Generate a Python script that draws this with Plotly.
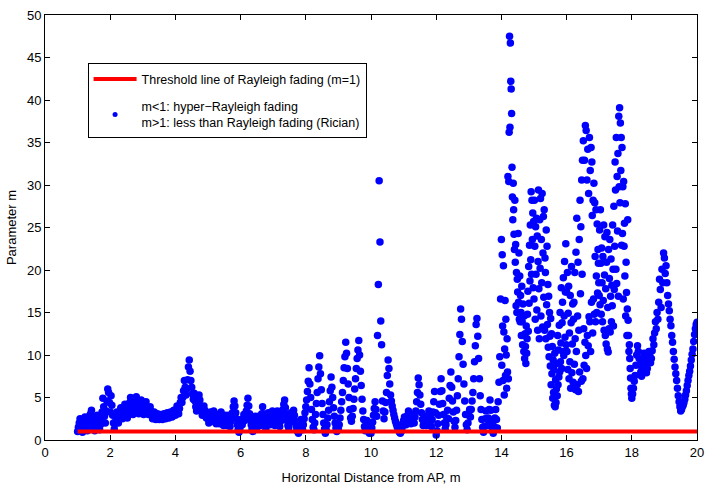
import numpy as np
import plotly.graph_objects as go

# Estimated Nakagami parameter m along the walk, 1 m - 14 m (0.025 m spacing)
m01 = [1.0, 1.5, 2.0, 2.5, 2.0, 1.4, 0.9, 1.5,
       2.1, 2.7, 2.2, 1.6, 1.1, 1.7, 2.3, 2.9,
       3.1, 3.5, 2.8, 2.1, 1.4, 1.1, 1.7, 2.4,
       2.9, 2.3, 1.7, 1.2, 1.8, 2.5, 3.3, 4.9,
       3.9, 2.8, 2.0, 3.4, 4.6, 6.0, 5.6, 4.4]
m02 = [3.3, 5.2, 4.1, 2.9, 2.0, 1.3, 1.9, 2.6,
       3.3, 2.7, 2.0, 2.6, 3.2, 3.8, 3.2, 2.5,
       3.0, 3.6, 4.2, 3.6, 3.0, 2.6, 3.2, 3.8,
       4.4, 5.0, 4.3, 3.6, 3.0, 3.6, 4.2, 4.8,
       5.1, 4.4, 3.7, 3.1, 3.6, 4.2, 4.7, 4.1]
m03 = [3.5, 3.0, 3.5, 4.0, 4.5, 3.9, 3.4, 3.0,
       3.5, 3.9, 3.4, 2.9, 2.5, 2.9, 3.3, 2.8,
       2.4, 2.8, 3.1, 2.7, 2.4, 2.7, 3.0, 2.6,
       2.4, 2.8, 3.1, 2.7, 2.5, 2.8, 3.2, 2.8,
       2.6, 2.9, 3.3, 2.9, 2.7, 3.1, 3.5, 3.1]
m04 = [2.9, 3.4, 4.0, 3.5, 3.1, 3.7, 4.4, 5.0,
       4.4, 5.0, 5.8, 7.0, 6.2, 5.3, 6.0, 7.1,
       8.6, 9.4, 8.1, 7.0, 6.2, 5.4, 4.8, 5.5,
       4.6, 3.9, 3.4, 4.0, 4.6, 5.3, 4.7, 4.0,
       3.4, 2.9, 3.4, 4.0, 3.5, 3.0, 2.6, 3.1]
m05 = [2.5, 2.0, 2.7, 3.3, 2.8, 2.2, 2.9, 3.4,
       2.9, 2.3, 1.9, 2.5, 3.0, 2.4, 1.9, 2.6,
       3.3, 2.7, 2.1, 1.7, 2.3, 2.9, 2.3, 1.7,
       2.3, 2.9, 2.2, 1.6, 2.2, 2.7, 3.2, 3.9,
       4.6, 4.0, 3.2, 2.5, 1.8, 1.2, 0.9, 1.3]
m06 = [1.7, 2.4, 1.8, 2.5, 3.0, 2.3, 2.8, 3.4,
       4.1, 4.9, 4.0, 3.1, 2.4, 1.8, 1.3, 1.0,
       1.5, 2.1, 2.8, 2.1, 1.5, 2.1, 2.8, 2.2,
       1.7, 2.4, 3.1, 3.9, 3.1, 2.4, 1.7, 1.3,
       1.9, 2.6, 3.2, 2.5, 1.8, 2.5, 3.1, 3.4]
m07 = [2.8, 2.2, 1.7, 2.4, 3.0, 3.4, 2.7, 2.1,
       1.6, 2.2, 2.8, 3.2, 3.6, 4.2, 4.7, 3.8,
       3.0, 2.3, 1.7, 1.4, 2.0, 2.7, 3.2, 2.5,
       2.9, 3.5, 2.9, 2.2, 1.7, 1.3, 1.0, 0.8,
       1.2, 1.8, 2.4, 1.8, 1.2, 1.8, 2.5, 3.2]
m08 = [3.9, 4.7, 5.7, 6.9, 8.5, 6.6, 5.0, 3.6,
       2.4, 1.5, 1.2, 2.0, 3.0, 4.3, 5.6, 7.2,
       8.6, 9.9, 7.8, 5.9, 4.3, 3.0, 2.0, 1.3,
       0.8, 1.2, 1.8, 2.6, 3.5, 4.5, 5.8, 7.4,
       6.2, 5.0, 3.8, 2.8, 2.0, 1.4, 1.0, 1.3]
m09 = [1.2, 1.8, 2.6, 3.5, 4.5, 5.6, 7.0, 8.5,
       9.8, 11.5, 10.2, 8.4, 6.6, 5.0, 3.6, 2.6,
       2.2, 2.8, 3.7, 4.8, 6.0, 7.2, 8.4, 9.6,
       10.6, 11.7, 10.0, 8.1, 6.4, 4.8, 3.4, 2.4,
       1.6, 1.1, 1.6, 2.3, 1.7, 1.1, 0.8, 1.3]
m10 = [0.8, 1.4, 2.1, 2.9, 3.7, 4.5, 3.6, 2.8,
       12.3, 18.3, 30.5, 23.3, 14.0, 11.2, 4.6, 3.4,
       2.5, 3.3, 4.4, 5.6, 7.6, 9.4, 8.4, 6.6,
       5.3, 4.6, 4.0, 3.5, 3.0, 2.6, 2.2, 1.9,
       1.6, 1.3, 1.1, 0.9, 0.8, 1.0, 1.4, 1.9]
m11 = [2.3, 2.7, 2.2, 1.8, 2.4, 2.9, 3.4, 2.9,
       2.4, 1.9, 2.4, 3.0, 2.5, 2.0, 2.7, 3.4,
       4.5, 5.6, 7.3, 6.5, 5.3, 4.2, 3.2, 2.4,
       1.7, 2.2, 2.8, 2.3, 1.7, 2.2, 2.8, 3.4,
       2.8, 2.2, 1.6, 2.4, 3.3, 4.5, 5.7, 3.2]
m12 = [0.6, 1.1, 1.9, 2.9, 4.2, 5.7, 7.2, 5.8,
       4.3, 3.0, 2.0, 1.3, 1.8, 2.6, 3.5, 2.5,
       4.9, 6.4, 8.0, 6.2, 4.6, 3.3, 2.2, 1.5,
       2.3, 3.5, 5.2, 7.2, 9.8, 12.4, 15.4, 14.2,
       11.6, 8.9, 6.6, 4.6, 3.0, 1.8, 1.2, 2.0]
m13 = [2.9, 3.6, 2.7, 3.6, 4.6, 5.6, 7.2, 9.2,
       11.1, 13.6, 14.3, 12.2, 9.6, 7.2, 5.2, 3.6,
       2.4, 1.5, 0.9, 1.6, 2.5, 3.4, 2.5, 1.7,
       2.6, 3.6, 4.7, 3.5, 2.3, 1.3, 0.8, 1.6,
       2.6, 3.6, 2.4, 1.4, 4.5, 6.8, 9.8, 16.6]

# 14 m - 18 m, strongly scattered region (0.0125 m spacing)
h14a = [23.6, 8.8, 21.8, 13.4, 7.0, 20.5, 12.7, 5.3,
        10.7, 16.4, 7.6, 14.2, 10.0, 6.1, 11.9, 8.0,
        31.0, 7.2, 30.4, 36.2, 47.5, 36.8, 46.7, 42.2,
        41.3, 38.4, 32.1, 28.6, 25.9, 30.2, 27.1, 24.2,
        22.4, 28.2, 20.9, 23.0, 15.8, 19.7, 15.0, 18.9]
h14b = [17.4, 24.3, 16.2, 22.0, 14.2, 19.3, 13.9, 17.0,
        15.0, 12.3, 18.1, 13.9, 11.2, 16.0, 12.3, 10.4,
        14.6, 9.6, 12.5, 11.0, 9.0, 13.4, 10.2, 11.9,
        14.8, 17.5, 12.8, 20.4, 16.1, 22.9, 18.7, 25.3,
        21.2, 29.2, 19.5, 28.2, 23.6, 26.7, 17.9, 25.7]
h15a = [16.6, 28.2, 22.8, 14.2, 25.1, 19.5, 26.1, 15.3,
        24.0, 12.9, 21.0, 29.4, 17.8, 11.9, 25.9, 20.2,
        28.4, 14.6, 23.6, 18.5, 29.0, 13.3, 22.0, 26.3,
        16.8, 27.1, 12.9, 21.4, 19.7, 11.9, 24.7, 15.9,
        22.8, 13.6, 18.3, 10.9, 16.9, 9.8, 15.0, 12.2]
h15b = [8.7, 14.3, 6.5, 12.5, 7.8, 11.0, 4.9, 9.4,
        5.6, 8.3, 4.1, 10.2, 3.9, 7.1, 4.4, 6.0,
        9.0, 5.2, 12.3, 6.5, 10.6, 7.4, 13.5, 8.0,
        15.0, 9.2, 11.4, 17.9, 8.4, 13.8, 16.2, 10.4,
        19.1, 9.95, 14.6, 21.0, 12.1, 17.4, 23.1, 11.2]
h16a = [17.4, 10.4, 19.7, 8.3, 14.9, 18.1, 7.2, 12.6,
        9.2, 17.0, 6.1, 13.8, 20.4, 7.9, 11.3, 16.0,
        6.8, 14.2, 16.2, 8.9, 19.7, 11.9, 5.9, 22.1,
        10.4, 26.1, 6.5, 14.6, 20.9, 5.7, 12.9, 23.6,
        8.0, 28.2, 17.2, 25.1, 6.9, 30.6, 19.5, 32.9]
h16b = [7.2, 35.2, 13.1, 8.8, 32.9, 11.5, 37.0, 9.95,
        36.4, 8.4, 30.6, 12.3, 34.2, 11.1, 29.0, 14.5,
        35.6, 13.9, 31.7, 10.4, 34.4, 16.2, 32.7, 26.4,
        12.6, 28.2, 16.6, 30.2, 14.8, 27.9, 21.6, 13.9,
        27.1, 19.3, 15.0, 25.4, 17.3, 22.4, 20.8, 18.5]
h17a = [17.0, 24.7, 15.9, 27.1, 20.8, 14.8, 22.6, 18.5,
        13.9, 21.6, 16.4, 25.3, 12.9, 19.4, 23.9, 12.3,
        17.8, 11.3, 20.9, 24.4, 10.7, 15.6, 10.35, 22.4,
        13.1, 19.0, 23.6, 12.7, 16.9, 21.3, 13.9, 18.2,
        15.8, 25.3, 20.1, 13.4, 27.5, 17.7, 22.8, 32.7]
h17b = [29.4, 20.1, 35.6, 18.4, 31.0, 24.6, 33.7, 16.9,
        38.1, 29.8, 39.1, 27.9, 37.3, 31.7, 35.6, 22.9,
        34.4, 24.3, 29.8, 16.6, 30.4, 22.8, 25.5, 19.3,
        27.8, 14.6, 20.9, 17.35, 12.3, 15.4, 25.9, 14.1,
        12.3, 10.4, 11.2, 9.6, 8.4, 7.3, 6.1, 5.4]

# 18 m - 20 m (0.025 m spacing)
m18 = [4.9, 5.4, 6.1, 6.9, 7.6, 8.8, 10.0, 11.1,
       10.4, 9.6, 8.8, 8.0, 7.5, 8.3, 9.2, 10.2,
       9.5, 8.7, 7.9, 8.4, 9.3, 10.4, 9.9, 9.1,
       9.6, 10.5, 11.9, 11.2, 12.6, 13.9, 13.1, 15.0,
       14.2, 16.2, 18.9, 17.7, 15.6, 20.1, 18.5, 22.0]
m19 = [21.4, 19.6, 20.5, 18.5, 17.0, 16.0, 15.2, 14.2,
       13.45, 12.3, 11.5, 10.4, 9.5, 8.6, 7.8, 7.0,
       6.1, 5.2, 4.5, 3.9, 3.4, 3.6, 3.9, 4.1,
       4.4, 4.8, 5.3, 5.8, 6.4, 7.0, 7.6, 8.1,
       8.7, 9.4, 10.1, 10.7, 11.6, 12.4, 13.1, 13.6,
       13.85]

# Rayleigh threshold (m = 1)
threshold_x = [1.0, 20.0]
threshold_m = [1.0, 1.0]

x_ticks = [0, 2, 4, 6, 8, 10, 12, 14, 16, 18, 20]
y_ticks = [0, 5, 10, 15, 20, 25, 30, 35, 40, 45, 50]

# sampling grids for the three measurement segments
low = m01 + m02 + m03 + m04 + m05 + m06 + m07 + m08 + m09 + m10 + m11 + m12 + m13
mid = h14a + h14b + h15a + h15b + h16a + h16b + h17a + h17b
high = m18 + m19
x_low = 1.0 + 0.025 * np.arange(len(low))
x_mid = 14.0 + 0.0125 * np.arange(len(mid))
x_high = 18.0 + 0.025 * np.arange(len(high))

dist = np.concatenate([x_low, x_mid, x_high])
m_val = np.array(low + mid + high)

FONT = "Liberation Sans, Arial, Helvetica, sans-serif"

fig = go.Figure()
fig.add_trace(go.Scatter(
    x=dist, y=m_val, mode="markers",
    marker=dict(color="#0000ff", size=7.5, line=dict(width=0)),
    showlegend=False, hoverinfo="x+y"))
fig.add_trace(go.Scatter(
    x=threshold_x, y=threshold_m, mode="lines",
    line=dict(color="#ff0000", width=4),
    legendgroup="threshold",
    name="Threshold line of Rayleigh fading (m=1)"))
fig.add_trace(go.Scatter(
    x=[None], y=[None], mode="markers",
    marker=dict(color="#0000ff", size=5),
    legendgroup="samples",
    name="m<1: hyper\u2212Rayleigh fading<br>m>1: less than Rayleigh fading (Rician)"))

axis_common = dict(
    showline=True, linecolor="black", linewidth=1, mirror="ticks",
    ticks="inside", ticklen=5, tickcolor="black", tickwidth=1,
    showgrid=False, zeroline=False,
    tickfont=dict(family=FONT, size=13, color="black"),
)

fig.update_layout(
    width=712, height=491,
    margin=dict(l=45, r=8, t=13, b=49),
    paper_bgcolor="white", plot_bgcolor="white",
    font=dict(family=FONT, size=13, color="black"),
    xaxis=dict(range=[0, 20], tickvals=x_ticks,
               title=dict(text="Horizontal Distance from AP, m", standoff=14,
                          font=dict(family=FONT, size=13)),
               **axis_common),
    yaxis=dict(range=[0, 50], tickvals=y_ticks,
               title=dict(text="Parameter m", standoff=7,
                          font=dict(family=FONT, size=13)),
               **axis_common),
    legend=dict(x=0.0653, y=0.886, xanchor="left", yanchor="top",
                bgcolor="white", bordercolor="black", borderwidth=1,
                font=dict(family=FONT, size=12.5, color="black"),
                itemwidth=43, tracegroupgap=8),
)

fig.write_html("out.html")
